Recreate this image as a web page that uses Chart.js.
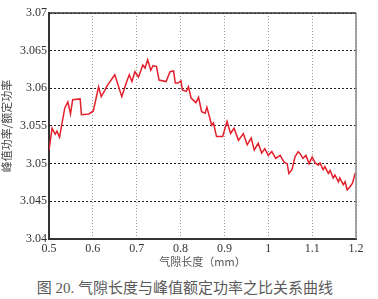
<!DOCTYPE html>
<html lang="zh">
<head>
<meta charset="UTF-8">
<title>气隙长度与峰值额定功率之比</title>
<style>
    body {
        margin: 0;
        background: #fff;
    }
    #wrap {
        position: relative;
        width: 378px;
        height: 299px;
    }
    #caption {
        position: absolute;
        left: 0;
        top: 276px;
        width: 370px;
        text-align: center;
        font-family: "Liberation Serif", "Noto Sans CJK SC", serif;
        font-size: 15px;
        color: #5a5a5a;
    }
</style>
</head>
<body>
<div id="wrap">
    <canvas id="gapChart" width="378" height="270"></canvas>
    <div id="caption">图 20. 气隙长度与峰值额定功率之比关系曲线</div>
</div>

<script src="https://cdn.jsdelivr.net/npm/chart.js"></script>
<script>
    // 气隙长度 (mm)
    const gapLength = [
        0.500, 0.507, 0.514, 0.518, 0.524, 0.536, 0.543, 0.549, 0.554, 0.571,
        0.574, 0.591, 0.601, 0.613, 0.619, 0.627, 0.632, 0.650, 0.666, 0.676,
        0.683, 0.689, 0.696, 0.704, 0.714, 0.719, 0.725, 0.732, 0.737, 0.745,
        0.751, 0.767, 0.776, 0.784, 0.788, 0.794, 0.801, 0.804, 0.813, 0.818,
        0.824, 0.835, 0.841, 0.848, 0.856, 0.860, 0.871, 0.875, 0.882, 0.896,
        0.906, 0.914, 0.922, 0.932, 0.943, 0.952, 0.961, 0.968, 0.977, 0.985,
        0.992, 1.000, 1.008, 1.017, 1.027, 1.036, 1.043, 1.047, 1.054, 1.061,
        1.068, 1.073, 1.079, 1.086, 1.093, 1.100, 1.107, 1.114, 1.118, 1.125,
        1.129, 1.137, 1.141, 1.148, 1.152, 1.160, 1.163, 1.171, 1.175, 1.180,
        1.186, 1.192, 1.198, 1.200
    ];
    // 峰值功率 / 额定功率
    const powerRatio = [
        3.0518, 3.0547, 3.0539, 3.0543, 3.0535, 3.0574, 3.0582, 3.0566, 3.0585, 3.0586,
        3.0565, 3.0566, 3.0570, 3.0602, 3.0589, 3.0597, 3.0603, 3.0618, 3.0589, 3.0607,
        3.0618, 3.0609, 3.0622, 3.0615, 3.0631, 3.0627, 3.0638, 3.0624, 3.0630, 3.0629,
        3.0611, 3.0609, 3.0622, 3.0623, 3.0607, 3.0607, 3.0610, 3.0598, 3.0596, 3.0602,
        3.0587, 3.0581, 3.0588, 3.0569, 3.0567, 3.0575, 3.0551, 3.0554, 3.0536, 3.0536,
        3.0556, 3.0540, 3.0547, 3.0531, 3.0540, 3.0525, 3.0534, 3.0518, 3.0527, 3.0514,
        3.0520, 3.0511, 3.0516, 3.0507, 3.0511, 3.0502, 3.0500, 3.0487, 3.0492, 3.0509,
        3.0516, 3.0513, 3.0507, 3.0511, 3.0500, 3.0509, 3.0501, 3.0498, 3.0501, 3.0492,
        3.0496, 3.0487, 3.0491, 3.0481, 3.0485, 3.0476, 3.0481, 3.0472, 3.0476, 3.0465,
        3.0469, 3.0474, 3.0487, 3.0487
    ];
    const xTicks = [0.5, 0.6, 0.7, 0.8, 0.9, 1.0, 1.1, 1.2];
    const yTicks = [3.04, 3.045, 3.05, 3.055, 3.06, 3.065, 3.07];

    // 上边框和右边框
    const frame = {
        id: 'frame',
        afterDraw(chart) {
            const { ctx, chartArea: a } = chart;
            ctx.save();
            ctx.lineWidth = 1.5;
            ctx.strokeStyle = '#333';
            ctx.beginPath();
            ctx.moveTo(a.left, a.top);
            ctx.lineTo(a.right, a.top);
            ctx.stroke();
            ctx.strokeStyle = '#888';
            ctx.beginPath();
            ctx.moveTo(a.right, a.top);
            ctx.lineTo(a.right, a.bottom);
            ctx.stroke();
            ctx.restore();
        }
    };

    const ctx = document.getElementById('gapChart').getContext('2d');
    new Chart(ctx, {
        type: 'line',
        data: {
            datasets: [{
                data: gapLength.map((x, i) => ({ x: x, y: powerRatio[i] })),
                borderColor: '#e3202b',
                borderWidth: 1.5,
                pointRadius: 0,
                tension: 0,
                fill: false
            }]
        },
        options: {
            responsive: false,
            animation: false,
            devicePixelRatio: 1,
            layout: { padding: { top: 13, right: 22, left: 0, bottom: 0 } },
            plugins: {
                legend: { display: false },
                tooltip: { enabled: false }
            },
            scales: {
                x: {
                    type: 'linear',
                    min: 0.5,
                    max: 1.2,
                    afterBuildTicks: s => { s.ticks = xTicks.map(v => ({ value: v })); },
                    afterFit: s => { s.height = 31; },
                    grid: { color: '#9a9a9a', drawTicks: false },
                    border: { color: '#333', width: 2, dash: [1, 2] },
                    ticks: {
                        padding: 3,
                        color: '#333',
                        font: { family: 'Liberation Serif', size: 12 },
                        callback: v => String(Number(v.toFixed(1)))
                    },
                    title: {
                        display: true,
                        text: '气隙长度（mm）',
                        color: '#555',
                        font: { family: 'Noto Sans CJK SC', size: 11 },
                        padding: { top: 0, bottom: 2 }
                    }
                },
                y: {
                    min: 3.04,
                    max: 3.07,
                    afterBuildTicks: s => { s.ticks = yTicks.map(v => ({ value: v })); },
                    afterFit: s => { s.width = 49; },
                    grid: { color: '#222', drawTicks: false },
                    border: { color: '#333', width: 2, dash: [2, 2] },
                    ticks: {
                        padding: 2,
                        color: '#333',
                        font: { family: 'Liberation Serif', size: 12 },
                        callback: v => String(Number(v.toFixed(3)))
                    },
                    title: {
                        display: true,
                        text: '峰值功率/额定功率',
                        color: '#444',
                        font: { family: 'Noto Sans CJK SC', size: 11 },
                        padding: { top: 0, bottom: 0 }
                    }
                }
            }
        },
        plugins: [frame]
    });
</script>
</body>
</html>
